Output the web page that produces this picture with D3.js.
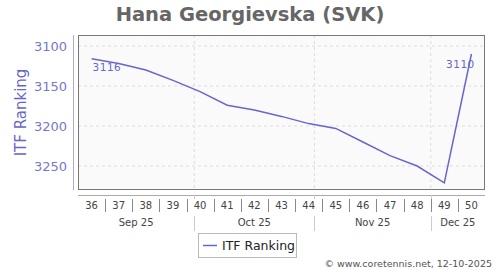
<!DOCTYPE html>
<html><head><meta charset="utf-8">
<script src="https://cdn.jsdelivr.net/npm/d3@7"></script>
<style>body{margin:0;background:#fff}svg{display:block;font-family:"DejaVu Sans",sans-serif}</style>
</head><body>
<script>
const weeks = ["36","37","38","39","40","41","42","43","44","45","46","47","48","49","50"];
const ranking = [3116,3122,3130,3143,3157,3174,3180,3188,3197,3203,3220,3237,3250,3271,3110];
const months = ["Sep 25","Oct 25","Nov 25","Dec 25"];
// month boundaries in week units (index offsets from start)
const monthBounds = [0, 4 + 2/7, 8 + 5/7, 13, 15];
const yTicks = [3100,3150,3200,3250];
const labeled = [0, 14];

const W=500,H=270;
const m={l:78,r:15,t:35,b:80};
const svg=d3.select("body").append("svg").attr("width",W).attr("height",H);
const pw=W-m.l-m.r, ph=H-m.t-m.b;
const x=d3.scaleBand().domain(weeks).range([m.l,m.l+pw]);
const xl=d3.scaleLinear().domain([0,weeks.length]).range([m.l,m.l+pw]);
const y=d3.scaleLinear().domain([3086.25,3280]).range([m.t,m.t+ph]);
const col="#6666cc";

svg.append("text").attr("x",250).attr("y",21).attr("text-anchor","middle")
  .attr("font-size",19.5).attr("font-weight","bold").attr("fill","#666").text("Hana Georgievska (SVK)");

svg.append("rect").attr("x",m.l).attr("y",m.t).attr("width",pw).attr("height",ph).attr("fill","#fafafa");
// grid
svg.append("g").selectAll("line").data(yTicks).join("line")
  .attr("x1",m.l).attr("x2",m.l+pw).attr("y1",d=>y(d)).attr("y2",d=>y(d))
  .attr("stroke","#ddd").attr("stroke-dasharray","3,3");
svg.append("g").selectAll("line").data(monthBounds.slice(1,-1)).join("line")
  .attr("x1",d=>xl(d)).attr("x2",d=>xl(d)).attr("y1",m.t).attr("y2",m.t+ph)
  .attr("stroke","#ddd").attr("stroke-dasharray","3,3");
svg.append("rect").attr("x",m.l+0.5).attr("y",m.t+0.5).attr("width",pw-1).attr("height",ph-1)
  .attr("fill","none").attr("stroke","#777").attr("stroke-width",1);

// y axis
const ya=svg.append("g").attr("transform",`translate(${m.l-5},0)`)
  .call(d3.axisLeft(y).tickValues(yTicks).tickSize(0).tickPadding(6).tickFormat(d=>String(d)));
ya.select(".domain").attr("stroke","#aaaadd").attr("d",`M0.5,${m.t}V${m.t+ph}`);
ya.selectAll("text").attr("fill","#7777cc").attr("font-size",13).attr("font-family","DejaVu Sans, sans-serif");
svg.append("text").attr("transform",`translate(26,${m.t+ph/2}) rotate(-90)`).attr("text-anchor","middle")
  .attr("font-size",15).attr("fill","#6666cc").text("ITF Ranking");

// x axis
const base=m.t+ph+5;
const xa=svg.append("g").attr("transform",`translate(0,${base})`)
  .call(d3.axisBottom(x).tickSize(0).tickPadding(7));
xa.select(".domain").attr("stroke","#aaa").attr("d",`M${m.l},0.5H${m.l+pw}`);
xa.selectAll("text").attr("fill","#444").attr("font-size",10).attr("font-family","DejaVu Sans, sans-serif");
// separators between weeks
svg.append("g").selectAll("line").data(d3.range(1,weeks.length)).join("line")
  .attr("x1",d=>Math.round(xl(d))+0.5).attr("x2",d=>Math.round(xl(d))+0.5).attr("y1",base+4).attr("y2",base+17)
  .attr("stroke","#888");
// month separators
const mb=monthBounds.slice(1,-1);
svg.append("g").selectAll("line").data(mb).join("line")
  .attr("x1",d=>Math.round(xl(d))+0.5).attr("x2",d=>Math.round(xl(d))+0.5).attr("y1",base).attr("y2",base+4)
  .attr("stroke","#ccc");
svg.append("g").selectAll("line").data(mb).join("line")
  .attr("x1",d=>Math.round(xl(d))+0.5).attr("x2",d=>Math.round(xl(d))+0.5).attr("y1",base+21).attr("y2",base+36)
  .attr("stroke","#ccc");
svg.append("g").selectAll("text").data(months).join("text")
  .attr("x",(d,i)=>(xl(monthBounds[i])+xl(monthBounds[i+1]))/2).attr("y",base+31)
  .attr("text-anchor","middle").attr("font-size",10).attr("fill","#444").text(d=>d);

// line
const line=d3.line().x((d,i)=>x(weeks[i])+x.bandwidth()/2).y(d=>y(d));
svg.append("path").datum(ranking).attr("d",line).attr("fill","none").attr("stroke",col).attr("stroke-width",1.5);
svg.append("g").selectAll("text").data(labeled).join("text")
  .attr("x",i=>x(weeks[i])+x.bandwidth()/2+(i===0?1:-11)).attr("y",i=>y(ranking[i])+(i===0?12:14))
  .attr("text-anchor",i=>i===0?"start":"middle").attr("font-size",10.5).attr("letter-spacing",0.5)
  .attr("fill",col).text(i=>ranking[i]);

// legend
svg.append("rect").attr("x",198.5).attr("y",233.5).attr("width",98).attr("height",24)
  .attr("fill","#fff").attr("stroke","#bbb");
svg.append("line").attr("x1",203).attr("x2",217).attr("y1",245.5).attr("y2",245.5).attr("stroke",col).attr("stroke-width",1.5);
svg.append("text").attr("x",222).attr("y",250).attr("font-size",12.5).attr("fill","#222").text("ITF Ranking");

svg.append("text").attr("x",492).attr("y",267).attr("text-anchor","end").attr("font-size",9.5)
  .attr("fill","#555").text("© www.coretennis.net, 12-10-2025");
</script>
</body></html>
